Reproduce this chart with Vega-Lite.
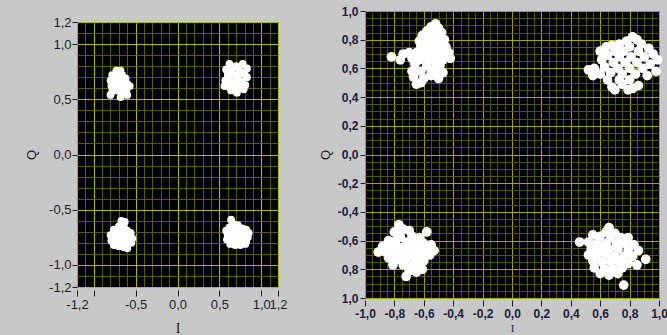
{
  "$schema": "https://vega.github.io/schema/vega-lite/v6.json",
  "background": "#c8c8c8",
  "padding": {"left": 25, "top": 4, "right": 0, "bottom": 0},
  "spacing": 30,
  "datasets": {
    "left": [
      {"I": -0.73, "Q": 0.76}, {"I": -0.68, "Q": 0.76}, {"I": -0.78, "Q": 0.72}, {"I": -0.72, "Q": 0.71}, {"I": -0.66, "Q": 0.72}, {"I": -0.62, "Q": 0.69},
      {"I": -0.8, "Q": 0.67}, {"I": -0.75, "Q": 0.66}, {"I": -0.7, "Q": 0.66}, {"I": -0.65, "Q": 0.65}, {"I": -0.6, "Q": 0.64}, {"I": -0.57, "Q": 0.62},
      {"I": -0.79, "Q": 0.62}, {"I": -0.74, "Q": 0.61}, {"I": -0.69, "Q": 0.61}, {"I": -0.64, "Q": 0.6}, {"I": -0.61, "Q": 0.58}, {"I": -0.78, "Q": 0.57},
      {"I": -0.72, "Q": 0.58}, {"I": -0.67, "Q": 0.57}, {"I": -0.8, "Q": 0.54}, {"I": -0.68, "Q": 0.52}, {"I": -0.6, "Q": 0.54},
      {"I": 0.62, "Q": 0.82}, {"I": 0.78, "Q": 0.82}, {"I": 0.7, "Q": 0.8}, {"I": 0.83, "Q": 0.78}, {"I": 0.58, "Q": 0.77}, {"I": 0.65, "Q": 0.77},
      {"I": 0.74, "Q": 0.76}, {"I": 0.8, "Q": 0.73}, {"I": 0.6, "Q": 0.72}, {"I": 0.67, "Q": 0.72}, {"I": 0.72, "Q": 0.71}, {"I": 0.83, "Q": 0.7},
      {"I": 0.57, "Q": 0.67}, {"I": 0.63, "Q": 0.66}, {"I": 0.7, "Q": 0.66}, {"I": 0.77, "Q": 0.66}, {"I": 0.81, "Q": 0.63}, {"I": 0.56, "Q": 0.62},
      {"I": 0.62, "Q": 0.61}, {"I": 0.68, "Q": 0.6}, {"I": 0.75, "Q": 0.61}, {"I": 0.64, "Q": 0.58}, {"I": 0.71, "Q": 0.56}, {"I": 0.79, "Q": 0.59},
      {"I": -0.67, "Q": -0.6}, {"I": -0.63, "Q": -0.61}, {"I": -0.7, "Q": -0.65}, {"I": -0.64, "Q": -0.66}, {"I": -0.76, "Q": -0.68}, {"I": -0.72, "Q": -0.7},
      {"I": -0.66, "Q": -0.71}, {"I": -0.6, "Q": -0.69}, {"I": -0.56, "Q": -0.71}, {"I": -0.8, "Q": -0.73}, {"I": -0.74, "Q": -0.74}, {"I": -0.68, "Q": -0.76},
      {"I": -0.62, "Q": -0.75}, {"I": -0.54, "Q": -0.76}, {"I": -0.79, "Q": -0.78}, {"I": -0.73, "Q": -0.79}, {"I": -0.66, "Q": -0.8}, {"I": -0.59, "Q": -0.79},
      {"I": -0.55, "Q": -0.8}, {"I": -0.7, "Q": -0.83}, {"I": -0.64, "Q": -0.84}, {"I": -0.6, "Q": -0.85}, {"I": -0.76, "Q": -0.82},
      {"I": 0.64, "Q": -0.59}, {"I": 0.67, "Q": -0.63}, {"I": 0.72, "Q": -0.64}, {"I": 0.62, "Q": -0.66}, {"I": 0.58, "Q": -0.69}, {"I": 0.65, "Q": -0.68},
      {"I": 0.71, "Q": -0.68}, {"I": 0.77, "Q": -0.67}, {"I": 0.82, "Q": -0.68}, {"I": 0.85, "Q": -0.71}, {"I": 0.6, "Q": -0.73}, {"I": 0.66, "Q": -0.72},
      {"I": 0.73, "Q": -0.72}, {"I": 0.79, "Q": -0.73}, {"I": 0.84, "Q": -0.75}, {"I": 0.59, "Q": -0.77}, {"I": 0.64, "Q": -0.77}, {"I": 0.7, "Q": -0.77},
      {"I": 0.77, "Q": -0.78}, {"I": 0.82, "Q": -0.79}, {"I": 0.63, "Q": -0.81}, {"I": 0.69, "Q": -0.82}, {"I": 0.75, "Q": -0.82}, {"I": 0.81, "Q": -0.81}
    ],
    "right": [
      {"I": -0.52, "Q": 0.91}, {"I": -0.55, "Q": 0.89}, {"I": -0.5, "Q": 0.88}, {"I": -0.58, "Q": 0.86}, {"I": -0.53, "Q": 0.85}, {"I": -0.48, "Q": 0.85},
      {"I": -0.61, "Q": 0.83}, {"I": -0.56, "Q": 0.82}, {"I": -0.5, "Q": 0.82}, {"I": -0.46, "Q": 0.8}, {"I": -0.63, "Q": 0.79}, {"I": -0.58, "Q": 0.78},
      {"I": -0.53, "Q": 0.78}, {"I": -0.48, "Q": 0.77}, {"I": -0.45, "Q": 0.75}, {"I": -0.62, "Q": 0.75}, {"I": -0.56, "Q": 0.74}, {"I": -0.51, "Q": 0.73},
      {"I": -0.47, "Q": 0.72}, {"I": -0.43, "Q": 0.71}, {"I": -0.65, "Q": 0.71}, {"I": -0.6, "Q": 0.7}, {"I": -0.55, "Q": 0.7}, {"I": -0.5, "Q": 0.69},
      {"I": -0.45, "Q": 0.68}, {"I": -0.42, "Q": 0.67}, {"I": -0.7, "Q": 0.71}, {"I": -0.74, "Q": 0.7}, {"I": -0.68, "Q": 0.67}, {"I": -0.63, "Q": 0.66},
      {"I": -0.57, "Q": 0.66}, {"I": -0.52, "Q": 0.65}, {"I": -0.47, "Q": 0.66}, {"I": -0.76, "Q": 0.66}, {"I": -0.82, "Q": 0.68}, {"I": -0.66, "Q": 0.63},
      {"I": -0.58, "Q": 0.62}, {"I": -0.52, "Q": 0.61}, {"I": -0.49, "Q": 0.62}, {"I": -0.68, "Q": 0.58}, {"I": -0.62, "Q": 0.58}, {"I": -0.55, "Q": 0.57},
      {"I": -0.5, "Q": 0.58}, {"I": -0.47, "Q": 0.57}, {"I": -0.67, "Q": 0.54}, {"I": -0.6, "Q": 0.53}, {"I": -0.55, "Q": 0.55}, {"I": -0.5, "Q": 0.53},
      {"I": -0.65, "Q": 0.49}, {"I": -0.62, "Q": 0.5},
      {"I": 0.82, "Q": 0.82}, {"I": 0.85, "Q": 0.8}, {"I": 0.78, "Q": 0.79}, {"I": 0.73, "Q": 0.77}, {"I": 0.88, "Q": 0.77}, {"I": 0.68, "Q": 0.76},
      {"I": 0.64, "Q": 0.75}, {"I": 0.8, "Q": 0.75}, {"I": 0.93, "Q": 0.74}, {"I": 0.6, "Q": 0.72}, {"I": 0.7, "Q": 0.72}, {"I": 0.76, "Q": 0.72},
      {"I": 0.86, "Q": 0.72}, {"I": 0.96, "Q": 0.7}, {"I": 0.65, "Q": 0.69}, {"I": 0.73, "Q": 0.68}, {"I": 0.81, "Q": 0.68}, {"I": 0.9, "Q": 0.68},
      {"I": 0.99, "Q": 0.66}, {"I": 0.61, "Q": 0.66}, {"I": 0.69, "Q": 0.64}, {"I": 0.77, "Q": 0.64}, {"I": 0.85, "Q": 0.64}, {"I": 0.94, "Q": 0.63},
      {"I": 0.56, "Q": 0.6}, {"I": 0.52, "Q": 0.59}, {"I": 0.63, "Q": 0.61}, {"I": 0.72, "Q": 0.6}, {"I": 0.8, "Q": 0.6}, {"I": 0.89, "Q": 0.6},
      {"I": 0.98, "Q": 0.58}, {"I": 0.55, "Q": 0.55}, {"I": 0.6, "Q": 0.56}, {"I": 0.67, "Q": 0.57}, {"I": 0.75, "Q": 0.56}, {"I": 0.84, "Q": 0.56},
      {"I": 0.92, "Q": 0.55}, {"I": 0.65, "Q": 0.52}, {"I": 0.73, "Q": 0.52}, {"I": 0.8, "Q": 0.52}, {"I": 0.68, "Q": 0.47}, {"I": 0.75, "Q": 0.49},
      {"I": 0.79, "Q": 0.45}, {"I": 0.82, "Q": 0.46}, {"I": 0.86, "Q": 0.48}, {"I": 0.7, "Q": 0.45},
      {"I": -0.77, "Q": -0.49}, {"I": -0.74, "Q": -0.52}, {"I": -0.8, "Q": -0.54}, {"I": -0.7, "Q": -0.53}, {"I": -0.58, "Q": -0.54}, {"I": -0.76, "Q": -0.57},
      {"I": -0.68, "Q": -0.57}, {"I": -0.63, "Q": -0.58}, {"I": -0.84, "Q": -0.6}, {"I": -0.79, "Q": -0.6}, {"I": -0.72, "Q": -0.61}, {"I": -0.66, "Q": -0.61},
      {"I": -0.6, "Q": -0.62}, {"I": -0.55, "Q": -0.63}, {"I": -0.88, "Q": -0.64}, {"I": -0.82, "Q": -0.64}, {"I": -0.76, "Q": -0.65}, {"I": -0.7, "Q": -0.65},
      {"I": -0.64, "Q": -0.66}, {"I": -0.58, "Q": -0.66}, {"I": -0.53, "Q": -0.67}, {"I": -0.91, "Q": -0.68}, {"I": -0.86, "Q": -0.68}, {"I": -0.8, "Q": -0.69},
      {"I": -0.74, "Q": -0.69}, {"I": -0.68, "Q": -0.7}, {"I": -0.62, "Q": -0.7}, {"I": -0.56, "Q": -0.7}, {"I": -0.84, "Q": -0.72}, {"I": -0.78, "Q": -0.73},
      {"I": -0.72, "Q": -0.73}, {"I": -0.66, "Q": -0.74}, {"I": -0.6, "Q": -0.74}, {"I": -0.81, "Q": -0.77}, {"I": -0.74, "Q": -0.77}, {"I": -0.68, "Q": -0.78},
      {"I": -0.63, "Q": -0.78}, {"I": -0.7, "Q": -0.81}, {"I": -0.65, "Q": -0.82}, {"I": -0.72, "Q": -0.85}, {"I": -0.61, "Q": -0.8},
      {"I": 0.66, "Q": -0.51}, {"I": 0.64, "Q": -0.54}, {"I": 0.7, "Q": -0.55}, {"I": 0.55, "Q": -0.56}, {"I": 0.6, "Q": -0.57}, {"I": 0.67, "Q": -0.58},
      {"I": 0.74, "Q": -0.58}, {"I": 0.79, "Q": -0.58}, {"I": 0.46, "Q": -0.61}, {"I": 0.52, "Q": -0.61}, {"I": 0.58, "Q": -0.62}, {"I": 0.64, "Q": -0.62},
      {"I": 0.71, "Q": -0.62}, {"I": 0.77, "Q": -0.62}, {"I": 0.83, "Q": -0.63}, {"I": 0.54, "Q": -0.66}, {"I": 0.6, "Q": -0.66}, {"I": 0.66, "Q": -0.66},
      {"I": 0.72, "Q": -0.66}, {"I": 0.79, "Q": -0.67}, {"I": 0.86, "Q": -0.67}, {"I": 0.52, "Q": -0.7}, {"I": 0.58, "Q": -0.7}, {"I": 0.64, "Q": -0.7},
      {"I": 0.7, "Q": -0.71}, {"I": 0.76, "Q": -0.71}, {"I": 0.82, "Q": -0.71}, {"I": 0.91, "Q": -0.73}, {"I": 0.55, "Q": -0.74}, {"I": 0.61, "Q": -0.75},
      {"I": 0.67, "Q": -0.75}, {"I": 0.73, "Q": -0.75}, {"I": 0.79, "Q": -0.76}, {"I": 0.85, "Q": -0.77}, {"I": 0.56, "Q": -0.79}, {"I": 0.63, "Q": -0.8},
      {"I": 0.69, "Q": -0.8}, {"I": 0.75, "Q": -0.79}, {"I": 0.6, "Q": -0.83}, {"I": 0.66, "Q": -0.84}, {"I": 0.72, "Q": -0.83}, {"I": 0.76, "Q": -0.91}
    ]
  },
  "hconcat": [
    {
      "spacing": 3,
      "vconcat": [
        {
          "width": 201,
          "height": 1,
          "view": {"fill": null, "stroke": null},
          "data": {"values": [{"k": 0}]},
          "mark": {"type": "point", "opacity": 0, "size": 0},
          "encoding": {}
        },
        {
          "width": 201,
          "height": 265,
          "view": {"fill": "#000000", "stroke": "#222222"},
          "data": {"name": "left"},
          "resolve": {"axis": {"x": "independent", "y": "independent"}},
          "layer": [
            {
              "mark": {"type": "point", "opacity": 0},
              "encoding": {
                "x": {"field": "I", "type": "quantitative", "scale": {"domain": [-1.2, 1.2], "nice": false, "zero": false},
                  "axis": {"orient": "bottom", "values": [-1.2,-1.1,-1.0,-0.9,-0.8,-0.7,-0.6,-0.5,-0.4,-0.3,-0.2,-0.1,0,0.1,0.2,0.3,0.4,0.5,0.6,0.7,0.8,0.9,1.0,1.1,1.2],
                    "grid": true, "gridColor": "#5c5c00", "gridOpacity": 1, "gridWidth": 1, "labels": false, "ticks": false, "domain": false, "title": null}},
                "y": {"field": "Q", "type": "quantitative", "scale": {"domain": [-1.2, 1.2], "nice": false, "zero": false},
                  "axis": {"orient": "left", "values": [-1.2,-1.1,-1.0,-0.9,-0.8,-0.7,-0.6,-0.5,-0.4,-0.3,-0.2,-0.1,0,0.1,0.2,0.3,0.4,0.5,0.6,0.7,0.8,0.9,1.0,1.1,1.2],
                    "grid": true, "gridColor": "#5c5c00", "gridOpacity": 1, "gridWidth": 1, "labels": false, "ticks": false, "domain": false, "title": null}}
              }
            },
            {
              "mark": {"type": "circle", "color": "#ffffff", "opacity": 1, "size": 60},
              "encoding": {
                "x": {"field": "I", "type": "quantitative",
                  "axis": {"orient": "bottom", "values": [-1.2, -1.0, -0.5, 0, 0.5, 1.0, 1.2], "grid": true, "gridColor": "#b8b800", "gridOpacity": 1,
                    "domain": false, "ticks": true, "tickColor": "#202020", "tickSize": 6, "offset": 3, "labelOverlap": false, "labelFlush": false,
                    "labelExpr": "datum.value == -1 ? '' : (datum.value < 0 ? '-' : '') + replace(format(abs(datum.value), '.1f'), '.', ',')",
                    "labelFont": "Liberation Sans", "labelFontSize": 13, "labelColor": "#1c1c2c", "labelPadding": 2,
                    "title": "I", "titleFont": "Liberation Serif", "titleFontSize": 14, "titleFontWeight": "normal", "titleColor": "#1c1c2c", "titlePadding": 10}},
                "y": {"field": "Q", "type": "quantitative",
                  "axis": {"orient": "left", "values": [-1.2, -1.0, -0.5, 0, 0.5, 1.0, 1.2], "grid": true, "gridColor": "#b8b800", "gridOpacity": 1,
                    "domain": false, "ticks": true, "tickColor": "#202020", "tickSize": 5, "labelOverlap": false, "labelFlush": false,
                    "labelExpr": "(datum.value < 0 ? '-' : '') + replace(format(abs(datum.value), '.1f'), '.', ',')",
                    "labelFont": "Liberation Sans", "labelFontSize": 13, "labelColor": "#1c1c2c", "labelPadding": 1,
                    "title": "Q", "titleFont": "Liberation Sans", "titleFontSize": 13, "titleFontWeight": "normal", "titleColor": "#1c1c2c", "titlePadding": 10}}
              }
            }
          ]
        }
      ]
    },
    {
      "width": 294,
      "height": 287,
      "view": {"fill": "#000000", "stroke": "#222222"},
      "data": {"name": "right"},
      "resolve": {"axis": {"x": "independent", "y": "independent"}},
      "layer": [
        {
          "mark": {"type": "point", "opacity": 0},
          "encoding": {
            "x": {"field": "I", "type": "quantitative", "scale": {"domain": [-1, 1], "nice": false, "zero": false},
              "axis": {"orient": "bottom", "values": [-1,-0.95,-0.9,-0.85,-0.8,-0.75,-0.7,-0.65,-0.6,-0.55,-0.5,-0.45,-0.4,-0.35,-0.3,-0.25,-0.2,-0.15,-0.1,-0.05,0,0.05,0.1,0.15,0.2,0.25,0.3,0.35,0.4,0.45,0.5,0.55,0.6,0.65,0.7,0.75,0.8,0.85,0.9,0.95,1],
                "grid": true, "gridColor": "#555500", "gridOpacity": 1, "gridWidth": 1, "labels": false, "ticks": false, "domain": false, "title": null}},
            "y": {"field": "Q", "type": "quantitative", "scale": {"domain": [-1, 1], "nice": false, "zero": false},
              "axis": {"orient": "left", "values": [-1,-0.95,-0.9,-0.85,-0.8,-0.75,-0.7,-0.65,-0.6,-0.55,-0.5,-0.45,-0.4,-0.35,-0.3,-0.25,-0.2,-0.15,-0.1,-0.05,0,0.05,0.1,0.15,0.2,0.25,0.3,0.35,0.4,0.45,0.5,0.55,0.6,0.65,0.7,0.75,0.8,0.85,0.9,0.95,1],
                "grid": true, "gridColor": "#555500", "gridOpacity": 1, "gridWidth": 1, "labels": false, "ticks": false, "domain": false, "title": null}}
          }
        },
        {
          "mark": {"type": "circle", "color": "#ffffff", "opacity": 1, "size": 95},
          "encoding": {
            "x": {"field": "I", "type": "quantitative",
              "axis": {"orient": "bottom", "values": [-1, -0.8, -0.6, -0.4, -0.2, 0, 0.2, 0.4, 0.6, 0.8, 1], "grid": true, "gridColor": "#a8a800", "gridOpacity": 1,
                "domain": false, "ticks": true, "tickColor": "#202020", "tickSize": 6, "offset": 2, "labelOverlap": false, "labelFlush": false,
                "labelExpr": "(datum.value < 0 ? '-' : '') + replace(format(abs(datum.value), '.1f'), '.', ',')",
                "labelFont": "Liberation Sans", "labelFontSize": 12, "labelFontWeight": "bold", "labelColor": "#1c1c3c", "labelPadding": 2,
                "title": "I", "titleFont": "Liberation Serif", "titleFontSize": 11, "titleFontWeight": "normal", "titleColor": "#1c1c2c", "titlePadding": 3}},
            "y": {"field": "Q", "type": "quantitative",
              "axis": {"orient": "left", "values": [-1, -0.8, -0.6, -0.4, -0.2, 0, 0.2, 0.4, 0.6, 0.8, 1], "grid": true, "gridColor": "#a8a800", "gridOpacity": 1,
                "domain": false, "ticks": true, "tickColor": "#202020", "tickSize": 5, "labelOverlap": false, "labelFlush": false,
                "labelExpr": "datum.value < -0.7 ? replace(format(abs(datum.value), '.1f'), '.', ',') : (datum.value < 0 ? '-' : '') + replace(format(abs(datum.value), '.1f'), '.', ',')",
                "labelFont": "Liberation Sans", "labelFontSize": 12, "labelFontWeight": "bold", "labelColor": "#1c1c3c", "labelPadding": 2,
                "title": "Q", "titleFont": "Liberation Sans", "titleFontSize": 13, "titleFontWeight": "normal", "titleColor": "#1c1c2c", "titlePadding": 5}}
          }
        }
      ]
    }
  ]
}
